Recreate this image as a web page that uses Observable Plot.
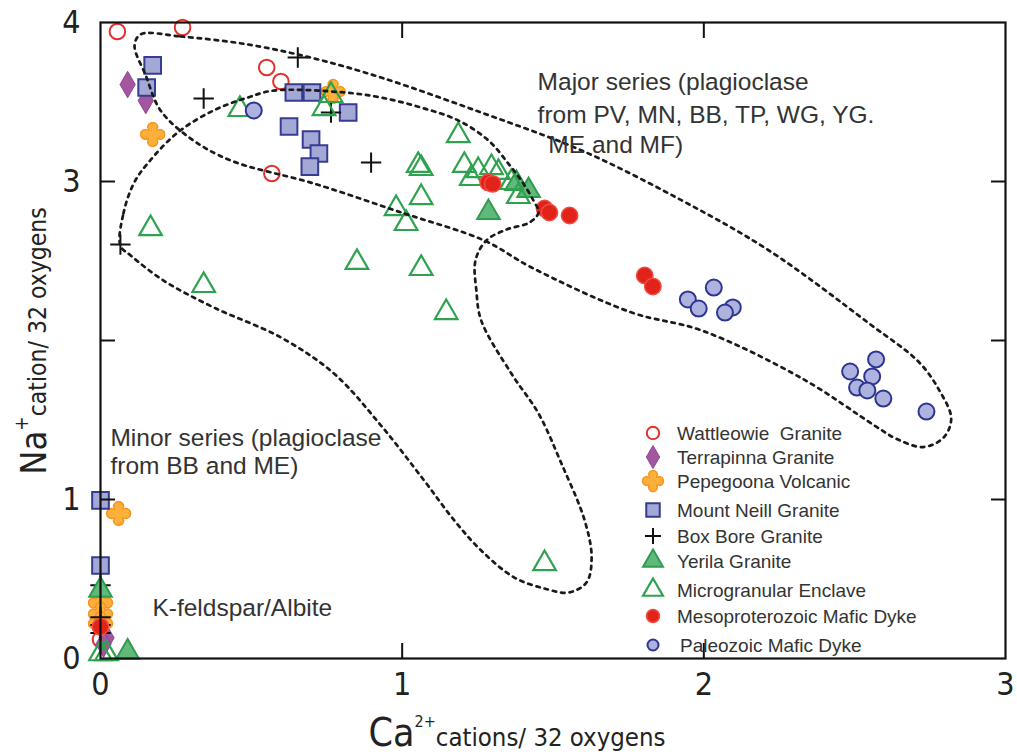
<!DOCTYPE html>
<html><head><meta charset="utf-8">
<script src="https://cdn.jsdelivr.net/npm/d3@7"></script>
<script src="https://cdn.jsdelivr.net/npm/@observablehq/plot@0.6"></script>
<style>
body{margin:0;background:#fff;}
#chart svg{display:block;}
</style></head><body><div id="chart"></div>
<script>
// ---- data (Ca2+ cations, Na+ cations per 32 oxygens) ----
const wattleowie = [[0.056,3.943],[0.272,3.969],[0.551,3.717],[0.598,3.629],[0.568,3.050],[0.0,0.20],[0.0,0.12]];
const terrapinna = [[0.090,3.610],[0.150,3.509],[0.02,0.13],[0.01,0.09]];
const pepegoona  = [[0.173,3.296],[0.771,3.566],[0.060,0.912],[0.0,0.35],[0.0,0.28],[0.0,0.22]];
const mountNeill = [[0.173,3.730],[0.153,3.591],[0.641,3.560],[0.701,3.560],[0.821,3.434],[0.625,3.346],[0.698,3.264],[0.724,3.176],[0.694,3.094],[0.0,0.994],[0.0,0.585]];
const boxBore    = [[0.654,3.780],[0.342,3.522],[0.764,3.434],[0.897,3.119],[0.066,2.604],[0.0,0.46],[0.0,0.26],[0.0,0.21],[0.0,0.16]];
const yerila     = [[1.286,2.805],[1.379,2.987],[1.419,2.943],[0.0,0.43],[0.09,0.04]];
const enclave    = [[0.462,3.453],[0.741,3.459],[0.764,3.541],[0.166,2.704],[0.342,2.346],[0.850,2.491],
                    [1.186,3.289],[1.053,3.101],[1.063,3.082],[1.063,2.899],[0.980,2.830],[1.013,2.736],
                    [1.063,2.453],[1.146,2.176],[1.206,3.101],[1.252,3.069],[1.296,3.088],[1.319,3.057],
                    [1.229,3.019],[1.362,2.994],[1.385,2.906],[1.472,0.597],[0.0,0.03],[0.02,0.03]];
const mesoDyke   = [[1.285,2.994],[1.300,2.985],[1.472,2.830],[1.488,2.805],[1.555,2.786],[1.804,2.409],[1.831,2.340],[0.0,0.2]];
const paleoDyke  = [[0.508,3.447],[1.947,2.258],[1.983,2.201],[2.033,2.333],[2.096,2.208],[2.070,2.176],
                    [2.485,1.805],[2.571,1.881],[2.558,1.774],[2.508,1.704],[2.542,1.686],[2.595,1.635],[2.738,1.553]];

// envelope outlines (dotted fields)
const majorField = [[0.133,3.925],[0.266,3.912],[0.488,3.862],[0.708,3.774],[0.930,3.654],[1.262,3.434],[1.595,3.195],
  [1.927,2.881],[2.216,2.566],[2.548,2.107],[2.714,1.862],[2.781,1.685],[2.820,1.510],[2.795,1.390],[2.728,1.330],
  [2.640,1.380],[2.570,1.460],[2.326,1.761],[1.993,2.063],[1.761,2.176],[1.429,2.459],[1.272,2.629],[0.997,2.805],
  [0.708,2.987],[0.432,3.132],[0.299,3.270],[0.199,3.447],[0.150,3.667],[0.113,3.855]];
const minorField = [[0.066,2.597],[0.076,2.799],[0.110,2.987],[0.156,3.113],[0.256,3.308],[0.375,3.447],[0.488,3.528],
  [0.575,3.572],[0.807,3.560],[0.930,3.528],[1.063,3.465],[1.186,3.384],[1.286,3.258],[1.352,3.113],[1.395,3.006],
  [1.435,2.881],[1.452,2.805],[1.422,2.742],[1.346,2.698],[1.279,2.629],[1.243,2.503],[1.246,2.314],[1.262,2.126],
  [1.362,1.792],[1.452,1.541],[1.528,1.226],[1.605,0.868],[1.628,0.635],[1.611,0.478],[1.551,0.415],[1.472,0.440],
  [1.372,0.509],[1.262,0.679],[1.173,0.868],[1.073,1.119],[0.930,1.465],[0.774,1.792],[0.598,2.019],[0.375,2.208],
  [0.209,2.377],[0.100,2.535]];

const xTickLabels = [0,1,2,3];
const yTickLabels = [0,1,3,4];
const xTickMarks = [1,2];
const yTickMarks = [1,2,3];
const legendLabels = ["Wattleowie  Granite","Terrapinna Granite","Pepegoona Volcanic","Mount Neill Granite","Box Bore Granite","Yerila Granite","Microgranular Enclave","Mesoproterozoic Mafic Dyke","Paleozoic Mafic Dyke"];
const majorText = ["Major series (plagioclase","from PV, MN, BB, TP, WG, YG."," ME and MF)"];
const minorText = ["Minor series (plagioclase","from BB and ME)"];
const kText = "K-feldspar/Albite";

// ---- symbols ----
const roundPlus = {
  draw(ctx, size) {
    const R = Math.sqrt(size / Math.PI), w = R * 0.42, c = R - w, k = w * 0.5;
    ctx.moveTo(-w, -c);
    ctx.arc(0, -c, w, Math.PI, 2 * Math.PI);
    ctx.quadraticCurveTo(k, -k, c, -w);
    ctx.arc(c, 0, w, -Math.PI / 2, Math.PI / 2);
    ctx.quadraticCurveTo(k, k, w, c);
    ctx.arc(0, c, w, 0, Math.PI);
    ctx.quadraticCurveTo(-k, k, -c, w);
    ctx.arc(-c, 0, w, Math.PI / 2, 3 * Math.PI / 2);
    ctx.quadraticCurveTo(-k, -k, -w, -c);
    ctx.closePath();
  }
};

const styles = [
  {data: wattleowie, symbol: "circle",   d3s: d3.symbolCircle,   r: 7.8, lr: 6.2, fill: "none",    stroke: "#e0312b", sw: 2},
  {data: terrapinna, symbol: "diamond",  d3s: d3.symbolDiamond,  r: 8,   lr: 7,   fill: "#a3569f", stroke: "#8f4790", sw: 1},
  {data: pepegoona,  symbol: roundPlus,  d3s: roundPlus,         r: 12,  lr: 10.5, fill: "#fbb03b", stroke: "#f7941d", sw: 1.5},
  {data: mountNeill, symbol: "square",   d3s: d3.symbolSquare,   r: 9.4, lr: 7.6, fill: "#a4a8d6", stroke: "#363c8f", sw: 2},
  {data: boxBore,    symbol: "plus",     d3s: d3.symbolPlus,     r: 6.6, lr: 5.2, fill: "none",    stroke: "#111",    sw: 2},
  {data: yerila,     symbol: "triangle", d3s: d3.symbolTriangle, r: 8.4, lr: 7.4, fill: "#60b97b", stroke: "#2f9c50", sw: 2},
  {data: enclave,    symbol: "triangle", d3s: d3.symbolTriangle, r: 8.4, lr: 7.4, fill: "none",    stroke: "#2fa24f", sw: 2.2},
  {data: mesoDyke,   symbol: "circle",   d3s: d3.symbolCircle,   r: 8.2, lr: 6.5, fill: "#e2231a", stroke: "#ee4d43", sw: 1.5},
  {data: paleoDyke,  symbol: "circle",   d3s: d3.symbolCircle,   r: 8,   lr: 5.5, fill: "#adb2df", stroke: "#2e3591", sw: 2}
];

const narrow = "'Liberation Sans Narrow','Arial Narrow','DejaVu Sans Condensed',sans-serif";
const regular = "'Liberation Sans',Arial,Helvetica,sans-serif";

const dotMarks = styles.map(s => Plot.dot(s.data, {
  x: d => d[0], y: d => d[1], symbol: s.symbol, r: s.r,
  fill: s.fill, stroke: s.stroke, strokeWidth: s.sw
}));

const dash = {stroke: "#1a1a1a", strokeWidth: 2.7, strokeDasharray: "3.5,5", curve: "catmull-rom-closed", fill: "none"};

const textStyle = {fontFamily: regular, fontSize: 24.5, fill: "#333", textAnchor: "start", lineAnchor: "middle"};

const chart = Plot.plot({
  width: 1017, height: 754,
  marginLeft: 100, marginRight: 12, marginTop: 22, marginBottom: 96,
  x: {domain: [0, 3]}, y: {domain: [0, 4]},
  style: {background: "white", overflow: "visible", color: "#111"},
  marks: [
    ...dotMarks,
    Plot.line(majorField, {x: d => d[0], y: d => d[1], ...dash}),
    Plot.line(minorField, {x: d => d[0], y: d => d[1], ...dash}),
    Plot.frame({stroke: "#111", strokeWidth: 2.2}),
    Plot.axisX({anchor: "bottom", ticks: xTickMarks, tickSize: 15, dy: -15, strokeWidth: 2, tickFormat: () => null, label: null}),
    Plot.axisX({anchor: "top", ticks: xTickMarks, tickSize: 15, dy: 15, strokeWidth: 2, tickFormat: () => null, label: null}),
    Plot.axisY({anchor: "left", ticks: yTickMarks, tickSize: 15, dx: 15, strokeWidth: 2, tickFormat: () => null, label: null}),
    Plot.axisY({anchor: "right", ticks: yTickMarks, tickSize: 15, dx: -15, strokeWidth: 2, tickFormat: () => null, label: null}),
    Plot.axisX({anchor: "bottom", ticks: xTickLabels, tickFormat: d => String(d), tickSize: 0, tickPadding: 14, fontSize: 32, fontFamily: narrow, fill: "#222", label: null}),
    Plot.axisY({anchor: "left", ticks: yTickLabels, tickFormat: d => String(d), tickSize: 0, tickPadding: 20, fontSize: 32, fontFamily: narrow, fill: "#222", label: null}),
    Plot.text(majorText.slice(0,2), {x: 1.449, y: (d, i) => [3.623, 3.415][i], text: d => d, ...textStyle}),
    Plot.text(majorText.slice(2), {x: 1.462, y: 3.226, text: d => d, ...textStyle}),
    Plot.text(minorText, {x: 0.033, y: (d, i) => [1.384, 1.208][i], text: d => d, ...textStyle}),
    Plot.text([kText], {x: 0.172, y: 0.314, text: d => d, ...textStyle})
  ]
});
document.getElementById("chart").appendChild(chart);

const svg = d3.select(chart);
// axis titles
const xl = svg.append("text").attr("x", 517).attr("y", 746).attr("text-anchor", "middle")
  .attr("font-family", narrow).attr("fill", "#222");
xl.append("tspan").attr("font-size", 39).text("Ca");
xl.append("tspan").attr("font-size", 16).attr("dy", -19).text("2+");
xl.append("tspan").attr("font-size", 25.5).attr("dy", 19).text("cations/ 32 oxygens");

const yl = svg.append("text").attr("transform", "translate(46,341) rotate(-90)").attr("text-anchor", "middle")
  .attr("font-family", narrow).attr("fill", "#222");
yl.append("tspan").attr("font-size", 36).text("Na");
yl.append("tspan").attr("font-size", 19).attr("dy", -18).text("+");
yl.append("tspan").attr("font-size", 24.5).attr("dy", 18).text("cation/ 32 oxygens");

// legend
const rows = [433, 457, 481, 510, 536, 561, 590, 616, 645];
const lg = svg.append("g").attr("text-anchor", "start");
styles.forEach((s, i) => {
  lg.append("path")
    .attr("transform", `translate(653,${rows[i]})`)
    .attr("d", d3.symbol().type(s.d3s).size(Math.PI * s.lr * s.lr)())
    .attr("fill", s.fill).attr("stroke", s.stroke).attr("stroke-width", s.sw);
  lg.append("text").attr("x", i === 8 ? 680 : 677).attr("y", rows[i]).attr("dy", "0.36em")
    .attr("text-anchor", "start")
    .attr("font-family", regular).attr("font-size", 19).attr("fill", "#333")
    .style("white-space", "pre")
    .text(legendLabels[i]);
});
</script></body></html>
